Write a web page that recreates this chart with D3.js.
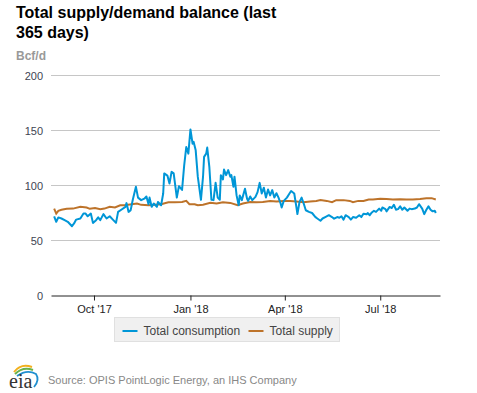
<!DOCTYPE html>
<html>
<head>
<meta charset="utf-8">
<script src="https://cdn.jsdelivr.net/npm/d3@7/dist/d3.min.js"></script>
<style>
  body { margin: 0; background: #fff; }
  svg { font-family: "Liberation Sans", Arial, sans-serif; }
</style>
</head>
<body>
<svg id="chart" width="477" height="393"></svg>
<script>
// day 0 = 24 Aug 2017, values in Bcf/d
var startDate = new Date(2017, 7, 24);

var consumption = [
  [0,72],[2,67],[4,71],[7,70],[10,68.5],[13,67],[17,63],[19,65.5],[21,69],[25,70],
  [28,74.5],[30,74.5],[32,72],[35,74.5],[37,66],[40,68.5],[42,71],[44,68.5],[47,74],[50,70],
  [53,72],[56,69],[59,66],[61,76],[64,78],[68,80.6],[69,84],[71,76],[73,77.6],[75,87],
  [78,98.8],[80,89],[83,86.7],[86,88],[88,90],[90,83],[91,89],[93,80.6],[95,83.6],[98,80.6],
  [99,85],[102,82],[104,92.7],[105,111],[108,109],[110,101.8],[112,112.4],[114,111],[117,89],[119,99.4],
  [122,96],[124,118],[126,135],[128,129],[130,151],[132,138],[133,139.7],[135,132],[137,108],[140,87],
  [142,108],[143,126],[145,129],[146,134.5],[148,117],[150,87],[152,86.7],[154,102.4],[156,89],[158,87],
  [159,109.4],[161,105.5],[162,114.5],[164,109.4],[166,114],[168,108],[169,109.4],[171,98.8],[172,108],[174,91],
  [176,82],[177,91],[179,86.7],[182,97],[184,88],[185,86],[187,90],[189,86.7],[192,89.7],[194,94],
  [196,102.4],[198,92.7],[200,98],[202,89],[204,96.4],[206,91],[208,95.8],[210,89],[212,93],[214,89],
  [216,83.6],[217,80],[219,86],[222,89],[224,92],[226,95],[229,92.7],[231,80.6],[232,74],[234,85],
  [236,89],[238,83.6],[240,77.5],[243,76],[246,75],[249,71.5],[251,70],[254,68],[256,70],[259,71.5],
  [262,73],[265,71.3],[267,69.8],[270,71.3],[272,70.7],[274,72],[276,69],[278,73],[281,71.3],[283,69],
  [285,71.3],[288,70.7],[291,73],[293,71.3],[295,74.4],[298,73.8],[299,75],[301,73],[303,75.5],[305,77],
  [307,76],[310,79],[312,77],[313,80],[316,78.5],[317,76.5],[320,80.5],[322,79.5],[324,82.5],[326,78],
  [328,78.5],[330,81],[332,78],[334,80],[337,77],[339,79],[341,78.5],[344,79],[346,80],[348,83],
  [351,79],[353,74],[355,78],[357,81],[359,78],[361,76.5],[363,77],[364,75]
];

var supply = [
  [0,79],[2,74.5],[4,77],[7,78],[12,78.8],[18,79],[25,80.6],[31,80],[34,78.8],[39,79.5],
  [44,78.5],[48,79],[53,80.6],[58,80],[63,82],[67,82],[74,83],[79,83.6],[83,82.4],[90,82],
  [96,82.5],[102,83],[109,84.8],[115,84.8],[122,85],[126,86],[129,83],[134,83],[137,82],[142,82.6],
  [149,84.2],[155,83.6],[161,84.8],[168,84.2],[175,82],[180,83.6],[187,85],[193,84.8],[199,85],[206,86],
  [212,85.5],[219,86],[225,86],[231,85.5],[238,84.8],[244,85.5],[250,86],[254,86.7],[260,86],[265,84.8],
  [269,86.7],[276,86.7],[282,86],[285,84.8],[290,86],[295,86],[300,87.3],[304,87.3],[311,88],[317,87.8],
  [323,87.3],[330,87.6],[336,87.3],[342,87.3],[349,87.8],[355,88.5],[360,88.5],[364,87.3]
];

var yTicks = [0, 50, 100, 150, 200];
var xTicks = [new Date(2017, 9, 1), new Date(2018, 0, 1), new Date(2018, 3, 1), new Date(2018, 6, 1)];
var xTickLabels = ["Oct '17", "Jan '18", "Apr '18", "Jul '18"];
var seriesNames = ["Total consumption", "Total supply"];
var seriesColors = ["#0096d7", "#bd732a"];

var svg = d3.select("#chart");

var x = d3.scaleTime()
    .domain([new Date(2017, 7, 21), new Date(2018, 7, 27)])
    .range([51, 440]);
var y = d3.scaleLinear().domain([0, 200]).range([295.5, 75.5]);

function dayDate(d) { return d3.timeDay.offset(startDate, d); }

/* title */
svg.append("text").attr("x", 16).attr("y", 18)
    .style("font-size", "16px").style("font-weight", "bold").style("fill", "#000")
    .text("Total supply/demand balance (last");
svg.append("text").attr("x", 16).attr("y", 38)
    .style("font-size", "16px").style("font-weight", "bold").style("fill", "#000")
    .text("365 days)");

svg.append("text").attr("x", 16).attr("y", 60)
    .style("font-size", "12px").style("font-weight", "bold").style("fill", "#999")
    .text("Bcf/d");

/* grid + y labels */
svg.append("g").selectAll("line")
    .data(yTicks.filter(function(t) { return t > 0; }))
    .enter().append("line")
    .attr("x1", 51).attr("x2", 440)
    .attr("y1", function(d) { return y(d); })
    .attr("y2", function(d) { return y(d); })
    .style("stroke", "#c6c6c6").style("stroke-width", 1);

svg.append("g").selectAll("text")
    .data(yTicks)
    .enter().append("text")
    .attr("x", 43)
    .attr("y", function(d) { return y(d) + 4; })
    .style("text-anchor", "end").style("font-size", "11px").style("fill", "#3e4452")
    .text(function(d) { return d; });

/* x axis */
var xAxis = svg.append("g")
    .attr("transform", "translate(0," + y(0) + ")")
    .call(d3.axisBottom(x).tickValues(xTicks).tickSize(5).tickSizeOuter(0)
        .tickFormat(function(d, i) { return xTickLabels[i]; }));
xAxis.select(".domain").style("stroke", "#222");
xAxis.selectAll(".tick line").style("stroke", "#222");
xAxis.selectAll(".tick text")
    .attr("dy", "0.9em")
    .style("font-family", "'Liberation Sans', Arial, sans-serif")
    .style("font-size", "11px").style("fill", "#222");

/* lines */
var line = d3.line()
    .x(function(d) { return x(dayDate(d[0])); })
    .y(function(d) { return y(d[1]); });

svg.append("path").datum(supply)
    .attr("d", line)
    .style("fill", "none").style("stroke", seriesColors[1]).style("stroke-width", 2);

svg.append("path").datum(consumption)
    .attr("d", line)
    .style("fill", "none").style("stroke", seriesColors[0]).style("stroke-width", 2)
    .style("stroke-linejoin", "round");

/* legend */
var legend = svg.append("g");
legend.append("rect")
    .attr("x", 114.5).attr("y", 317.5).attr("width", 225).attr("height", 24)
    .style("fill", "#f0f0f0").style("stroke", "#e0e0e0");
var legendX = [122.5, 248.5];
seriesNames.forEach(function(name, i) {
  legend.append("line")
      .attr("x1", legendX[i]).attr("x2", legendX[i] + 15)
      .attr("y1", 331).attr("y2", 331)
      .style("stroke", seriesColors[i]).style("stroke-width", 2);
  legend.append("text")
      .attr("x", legendX[i] + 21).attr("y", 335)
      .style("font-size", "12px").style("fill", "#444")
      .text(name);
});

/* footer */
var logo = svg.append("g");
logo.append("path").attr("d", "M14,372 Q21,363 32,367").style("fill", "none")
    .style("stroke", "#f2b01e").style("stroke-width", 2);
logo.append("path").attr("d", "M15,374 Q23,366 33,370").style("fill", "none")
    .style("stroke", "#6ab24b").style("stroke-width", 2);
logo.append("path").attr("d", "M17,376 Q27,369 36,374 Q40,380 34,387").style("fill", "none")
    .style("stroke", "#1f8fcf").style("stroke-width", 1.8);
logo.append("text").attr("x", 9).attr("y", 388)
    .style("font-family", "'Liberation Serif', 'DejaVu Serif', serif")
    .style("font-size", "20px").style("fill", "#333")
    .text("eia");

svg.append("text").attr("x", 48).attr("y", 384)
    .style("font-size", "11px").style("fill", "#888")
    .text("Source: OPIS PointLogic Energy, an IHS Company");
</script>
</body>
</html>
